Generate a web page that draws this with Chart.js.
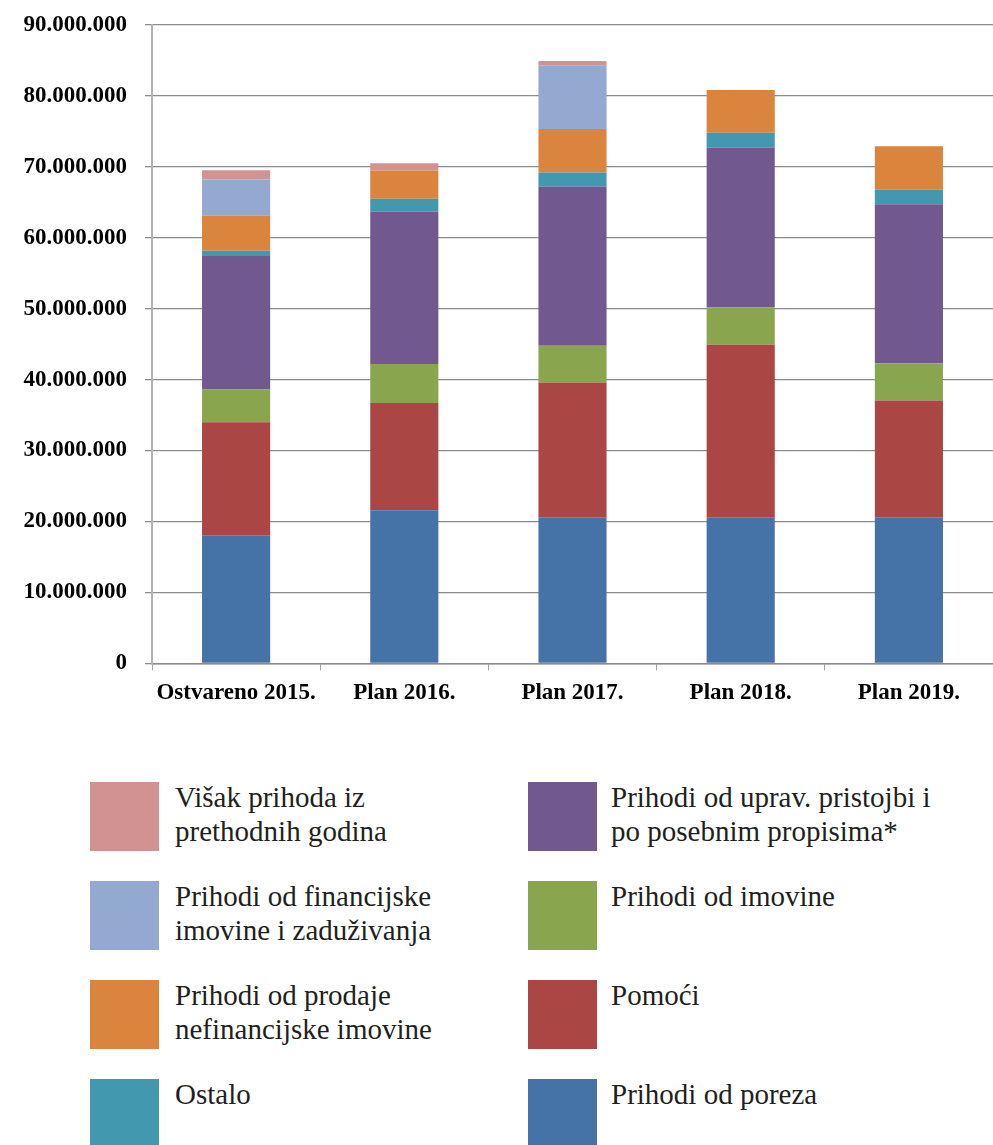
<!DOCTYPE html>
<html>
<head>
<meta charset="utf-8">
<script src="https://cdn.jsdelivr.net/npm/chart.js@4"></script>
<style>
  body { margin: 0; background: #fff; width: 993px; height: 1145px; position: relative; overflow: hidden; }
  #wrap { position: absolute; left: 0; top: -7px; width: 993px; height: 723px; }
  #legend { position: absolute; left: 0; top: 0; font-family: "Liberation Serif", serif; font-size: 29px; line-height: 34px; color: #231f20; }
  .item { position: absolute; }
  .sw { position: absolute; left: 0; top: 0; width: 69px; height: 69px; }
  .txt { position: absolute; top: -2px; }
</style>
</head>
<body>
<div id="wrap"><canvas id="chart"></canvas></div>
<div id="legend"></div>
<script>
const categories = ["Ostvareno 2015.", "Plan 2016.", "Plan 2017.", "Plan 2018.", "Plan 2019."];

const prihodiOdPoreza = [18050000, 21600000, 20600000, 20600000, 20600000];
const pomoci = [15950000, 15100000, 19000000, 24300000, 16450000];
const prihodiOdImovine = [4600000, 5500000, 5150000, 5300000, 5250000];
const upravnePristojbe = [18800000, 21500000, 22450000, 22500000, 22400000];
const ostalo = [750000, 1800000, 2000000, 2100000, 2100000];
const prodajaNefinancijske = [4950000, 3950000, 6100000, 6000000, 6100000];
const financijskaImovina = [5100000, 0, 9000000, 0, 0];
const visakPrihoda = [1300000, 1050000, 600000, 0, 0];

const yTicks = [0, 10000000, 20000000, 30000000, 40000000, 50000000, 60000000, 70000000, 80000000, 90000000];

// stack order: bottom to top
const series = [
  { label: "Prihodi od poreza", data: prihodiOdPoreza, color: "#4572A7" },
  { label: "Pomoći", data: pomoci, color: "#AA4643" },
  { label: "Prihodi od imovine", data: prihodiOdImovine, color: "#89A54E" },
  { label: "Prihodi od uprav. pristojbi i po posebnim propisima*", data: upravnePristojbe, color: "#71588F" },
  { label: "Ostalo", data: ostalo, color: "#4198AF" },
  { label: "Prihodi od prodaje nefinancijske imovine", data: prodajaNefinancijske, color: "#DB843D" },
  { label: "Prihodi od financijske imovine i zaduživanja", data: financijskaImovina, color: "#93A9CF" },
  { label: "Višak prihoda iz prethodnih godina", data: visakPrihoda, color: "#D19392" }
];

function fmt(v) {
  return String(v).replace(/\B(?=(\d{3})+(?!\d))/g, ".");
}

const tickFont = { family: "'Liberation Serif', serif", size: 23, weight: "bold" };

new Chart(document.getElementById("chart"), {
  type: "bar",
  data: {
    labels: categories,
    datasets: series.map(s => ({
      label: s.label,
      data: s.data,
      backgroundColor: s.color,
      borderWidth: 0,
      barPercentage: 0.405,
      categoryPercentage: 1
    }))
  },
  options: {
    responsive: true,
    maintainAspectRatio: false,
    animation: false,
    layout: { padding: { top: 6, right: 0, left: 0, bottom: 0 } },
    plugins: { legend: { display: false }, tooltip: { enabled: false } },
    scales: {
      x: {
        stacked: true,
        grid: { drawOnChartArea: false, offset: true, tickLength: 7, color: "#a6a6a6" },
        border: { color: "#8c8c8c", width: 1.5 },
        ticks: { font: tickFont, color: "#000", padding: 9, maxRotation: 0 }
      },
      y: {
        stacked: true,
        min: 0,
        max: 90000000,
        afterBuildTicks: scale => { scale.ticks = yTicks.map(v => ({ value: v })); },
        afterFit: scale => { scale.width = 152; },
        grid: { color: "#8c8c8c", lineWidth: 1.3, tickLength: 7 },
        border: { color: "#b3b3b3", width: 2 },
        ticks: { font: tickFont, color: "#000", padding: 18, callback: v => fmt(v) }
      }
    }
  }
});

// legend: two columns, read top-to-bottom, reverse of stack order
const legend = document.getElementById("legend");
const order = series.slice().reverse();
order.forEach((s, i) => {
  const col = Math.floor(i / 4);
  const row = i % 4;
  const item = document.createElement("div");
  item.className = "item";
  item.style.left = (col === 0 ? 90 : 528) + "px";
  item.style.top = (782 + row * 99) + "px";
  const sw = document.createElement("div");
  sw.className = "sw";
  sw.style.background = s.color;
  const txt = document.createElement("div");
  txt.className = "txt";
  txt.style.left = (col === 0 ? 85 : 83) + "px";
  txt.style.width = (col === 0 ? 285 : 335) + "px";
  txt.textContent = s.label;
  item.appendChild(sw);
  item.appendChild(txt);
  legend.appendChild(item);
});
</script>
</body>
</html>
